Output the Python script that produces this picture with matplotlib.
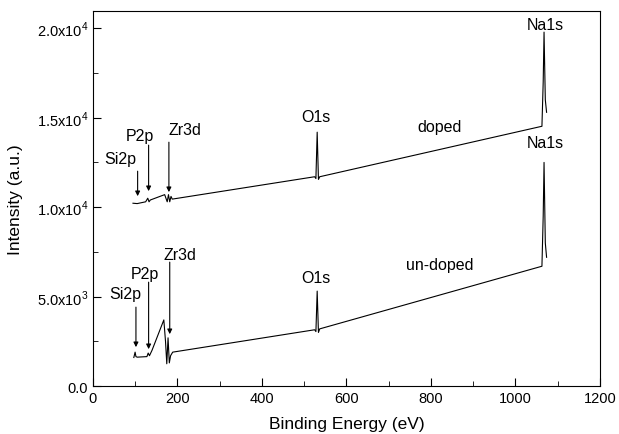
import numpy as np
import matplotlib.pyplot as plt
from matplotlib.ticker import MultipleLocator, FuncFormatter

plt.rcParams['font.family'] = ['Liberation Sans', 'DejaVu Sans']
plt.rcParams['mathtext.fontset'] = 'custom'
plt.rcParams['mathtext.rm'] = 'Liberation Sans'

# XPS survey spectra
doped_x = [95, 105, 125, 130, 133, 136, 170, 176, 179, 182, 185, 188,
           525, 528, 531, 534, 537, 1063, 1066, 1068, 1071, 1074]
doped_y = [10220, 10200, 10300, 10500, 10300, 10400, 10700, 10300, 10700,
           10300, 10600, 10450, 11700, 11600, 14190, 11550, 11700,
           14520, 17000, 19780, 16000, 15300]

undoped_x = [97, 100, 102, 105, 128, 131, 134, 140, 168, 172, 175, 178, 181,
             184, 189, 525, 528, 531, 534, 537, 1063, 1066, 1068, 1071, 1074]
undoped_y = [1600, 1900, 1650, 1620, 1650, 1850, 1700, 2000, 3700, 2500,
             1250, 2700, 1300, 1700, 1900, 3150, 3050, 5310, 3000, 3200,
             6700, 9500, 12500, 8000, 7200]

# peak labels: (text, x, y)
doped_labels = [("Si2p", 64, 12740), ("P2p", 111, 14020), ("Zr3d", 218, 14360),
                ("O1s", 527, 15085), ("Na1s", 1070, 20225), ("doped", 821, 14526)]
undoped_labels = [("Si2p", 76, 5196), ("P2p", 123, 6313), ("Zr3d", 206, 7375),
                  ("O1s", 527, 6090), ("Na1s", 1070, 13630), ("un-doped", 821, 6816)]

# arrows: (x, y_start, y_end)
doped_arrows = [(106, 12010, 10615), (132, 13465, 10895), (180, 13630, 10840)]
undoped_arrows = [(102, 4414, 2179), (132, 5810, 2067), (182, 6928, 2905)]

fig = plt.figure(figsize=(6.19, 4.35), dpi=100)
ax = fig.add_axes([0.150, 0.110, 0.819, 0.862])

ax.plot(doped_x, doped_y, color='black', lw=0.8)
ax.plot(undoped_x, undoped_y, color='black', lw=0.8)

for txt, x, y in doped_labels + undoped_labels:
    ax.text(x, y, txt, ha='center', va='center', fontsize=11.5)

for x, y0, y1 in doped_arrows + undoped_arrows:
    ax.annotate('', xy=(x, y1), xytext=(x, y0),
                arrowprops=dict(arrowstyle='-|>', color='black', lw=0.8,
                                mutation_scale=7, shrinkA=0, shrinkB=0))

ax.set_xlim(0, 1200)
ax.set_ylim(0, 20950)
ax.xaxis.set_major_locator(MultipleLocator(200))
ax.xaxis.set_minor_locator(MultipleLocator(100))
ax.yaxis.set_major_locator(MultipleLocator(5000))
ax.yaxis.set_minor_locator(MultipleLocator(2500))


def sci(v, pos):
    if v <= 0:
        return '0.0'
    e = int(np.floor(np.log10(v)))
    return r'%.1fx10$^{%d}$' % (v / 10**e, e)


ax.yaxis.set_major_formatter(FuncFormatter(sci))
ax.tick_params(which='both', direction='in', labelsize=10.5)
ax.tick_params(which='major', length=6)
ax.tick_params(which='minor', length=3.5)

ax.set_xlabel("Binding Energy (eV)", fontsize=12.5, labelpad=8)
ax.set_ylabel("Intensity (a.u.)", fontsize=12.5, labelpad=10)

fig.savefig('out.png', dpi=100)
